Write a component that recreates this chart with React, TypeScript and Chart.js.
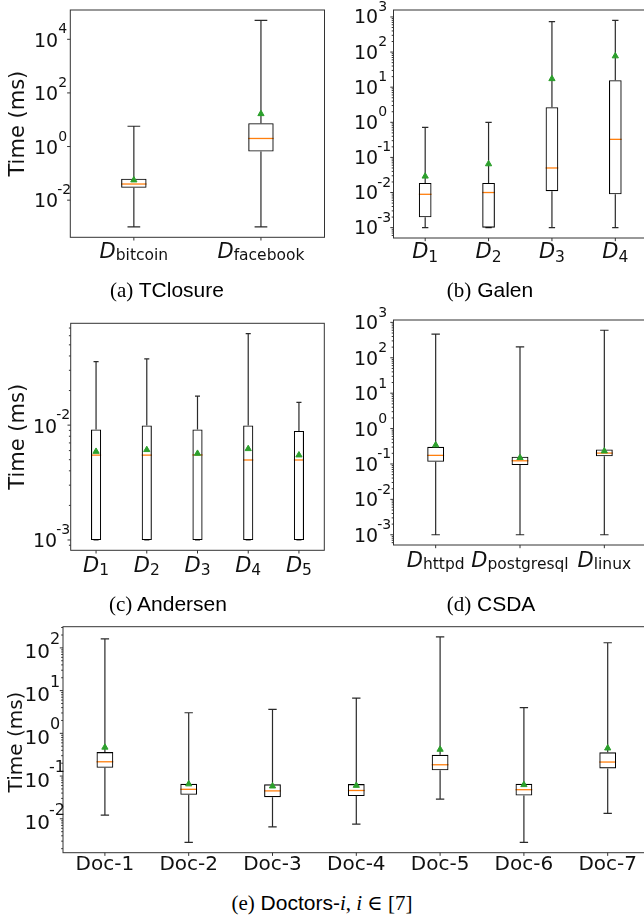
import React, { useEffect, useRef } from 'react';
import { Chart, registerables } from 'chart.js';

Chart.register(...registerables);

// ---------- (a) TClosure ----------
const tcCategories = ['bitcoin', 'facebook'];
const tcMin = [0.001, 0.001];
const tcQ1 = [0.029, 0.65];
const tcMedian = [0.04, 2.0];
const tcQ3 = [0.063, 7.4];
const tcMax = [5.7, 51000];
const tcMean = [0.056, 16.6];
const tcTickExps = [-2, 0, 2, 4];

// ---------- (b) Galen ----------
const galenCategories = ['1', '2', '3', '4'];
const galenMin = [0.001, 0.001, 0.001, 0.001];
const galenQ1 = [0.00197, 0.001, 0.0109, 0.0089];
const galenMedian = [0.0089, 0.01, 0.05, 0.327];
const galenQ3 = [0.0188, 0.0188, 2.68, 15.8];
const galenMax = [0.72, 1.0, 735, 800];
const galenMean = [0.029, 0.065, 17.3, 77];
const galenTickExps = [-3, -2, -1, 0, 1, 2, 3];

// ---------- (c) Andersen ----------
const andCategories = ['1', '2', '3', '4', '5'];
const andMin = [0.001, 0.001, 0.001, 0.001, 0.001];
const andQ1 = [0.001, 0.001, 0.001, 0.001, 0.001];
const andMedian = [0.00548, 0.00548, 0.0055, 0.00497, 0.00497];
const andQ3 = [0.00916, 0.00993, 0.00916, 0.00993, 0.0089];
const andMax = [0.0357, 0.0378, 0.0179, 0.0626, 0.0158];
const andMean = [0.00589, 0.0061, 0.00566, 0.00622, 0.00548];
const andTickExps = [-3, -2];

// ---------- (d) CSDA ----------
const csdaCategories = ['httpd', 'postgresql', 'linux'];
const csdaMin = [0.001, 0.001, 0.001];
const csdaQ1 = [0.115, 0.093, 0.164];
const csdaMedian = [0.175, 0.123, 0.203];
const csdaQ3 = [0.306, 0.16, 0.258];
const csdaMax = [468, 204, 600];
const csdaMean = [0.342, 0.15, 0.231];
const csdaTickExps = [-3, -2, -1, 0, 1, 2, 3];

// ---------- (e) Doctors ----------
const docCategories = ['Doc-1', 'Doc-2', 'Doc-3', 'Doc-4', 'Doc-5', 'Doc-6', 'Doc-7'];
const docMin = [0.0122, 0.0028, 0.0065, 0.0075, 0.029, 0.0028, 0.0134];
const docQ1 = [0.156, 0.0365, 0.032, 0.034, 0.136, 0.035, 0.151];
const docMedian = [0.216, 0.049, 0.045, 0.046, 0.184, 0.048, 0.213];
const docQ3 = [0.365, 0.066, 0.064, 0.065, 0.315, 0.066, 0.36];
const docMax = [162, 3.03, 3.65, 6.7, 180, 4.0, 132];
const docMean = [0.47, 0.065, 0.058, 0.06, 0.42, 0.0625, 0.45];
const docTickExps = [-2, -1, 0, 1, 2];

const Y_TITLE = 'Time (ms)';

const SANS = '"DejaVu Sans", sans-serif';
const INK = '#111';

function logLimits(lo: number[], hi: number[]) {
  const a = Math.log10(Math.min(...lo));
  const b = Math.log10(Math.max(...hi));
  const m = (b - a) * 0.05;
  return { min: Math.pow(10, a - m), max: Math.pow(10, b + m) };
}

function makePlugin(cfg: any) {
  return {
    id: 'boxdraw',
    beforeDatasetsDraw(chart: any) {
      const { ctx, chartArea: a } = chart;
      const xs = chart.scales.x;
      const ys = chart.scales.y;
      const n = cfg.categories.length;
      const cw = (a.right - a.left) / n;
      const capHalf = cw * 0.05;
      const boxHalf = cw * 0.1;
      ctx.save();
      for (let i = 0; i < n; i++) {
        const x = xs.getPixelForValue(i);
        const yMin = ys.getPixelForValue(cfg.min[i]);
        const yQ1 = ys.getPixelForValue(cfg.q1[i]);
        const yQ3 = ys.getPixelForValue(cfg.q3[i]);
        const yMax = ys.getPixelForValue(cfg.max[i]);
        const yMed = ys.getPixelForValue(cfg.median[i]);
        ctx.strokeStyle = '#2a2a2a';
        ctx.lineWidth = 1.2;
        ctx.beginPath();
        ctx.moveTo(x, yQ1);
        ctx.lineTo(x, yMin);
        ctx.moveTo(x, yQ3);
        ctx.lineTo(x, yMax);
        ctx.moveTo(x - capHalf, yMin);
        ctx.lineTo(x + capHalf, yMin);
        ctx.moveTo(x - capHalf, yMax);
        ctx.lineTo(x + capHalf, yMax);
        ctx.stroke();
        ctx.strokeStyle = '#ff7f0e';
        ctx.lineWidth = 1.3;
        ctx.beginPath();
        ctx.moveTo(x - boxHalf, yMed);
        ctx.lineTo(x + boxHalf, yMed);
        ctx.stroke();
      }
      ctx.restore();
    },
    afterDraw(chart: any) {
      const { ctx, chartArea: a } = chart;
      const xs = chart.scales.x;
      const ys = chart.scales.y;
      ctx.save();
      // frame
      ctx.strokeStyle = '#333';
      ctx.lineWidth = 1;
      ctx.strokeRect(a.left, a.top, a.right - a.left, a.bottom - a.top);
      // y ticks
      const lo = ys.min;
      const hi = ys.max;
      ctx.beginPath();
      for (let e = Math.floor(Math.log10(lo)); e <= Math.ceil(Math.log10(hi)); e++) {
        for (let k = 1; k <= 9; k++) {
          const v = k * Math.pow(10, e);
          if (v < lo || v > hi) continue;
          const major = k === 1 && cfg.exps.includes(e);
          if (!major && !cfg.minor) continue;
          const y = ys.getPixelForValue(v);
          const len = major ? 3.2 : 1.8;
          ctx.moveTo(a.left, y);
          ctx.lineTo(a.left - len, y);
        }
      }
      // x ticks
      for (let i = 0; i < cfg.categories.length; i++) {
        const x = xs.getPixelForValue(i);
        ctx.moveTo(x, a.bottom);
        ctx.lineTo(x, a.bottom + 3.2);
      }
      ctx.stroke();

      ctx.fillStyle = INK;
      ctx.textBaseline = 'alphabetic';
      ctx.textAlign = 'left';
      // y tick labels: 10^e
      const tx = cfg.tickX - cfg.left;
      for (const e of cfg.exps) {
        const y = ys.getPixelForValue(Math.pow(10, e));
        ctx.font = `${cfg.tickFont}px ${SANS}`;
        ctx.fillText('10', tx, y + cfg.baseDy);
        const w = ctx.measureText('10').width;
        ctx.font = `${cfg.supFont}px ${SANS}`;
        ctx.fillText(String(e), tx + w - (e < 0 ? 1 : 0), y + cfg.baseDy - cfg.supRise);
      }
      // x tick labels
      for (let i = 0; i < cfg.categories.length; i++) {
        const x = xs.getPixelForValue(i);
        const yb = a.bottom + cfg.xDy;
        const cat = cfg.categories[i];
        if (cfg.xKind === 'D') {
          ctx.font = `italic ${cfg.dFont}px ${SANS}`;
          const wD = ctx.measureText('D').width;
          ctx.font = `${cfg.subFont}px ${SANS}`;
          const wS = ctx.measureText(cat).width;
          const x0 = x - (wD + wS) / 2;
          ctx.font = `italic ${cfg.dFont}px ${SANS}`;
          ctx.fillText('D', x0, yb);
          ctx.font = `${cfg.subFont}px ${SANS}`;
          ctx.fillText(cat, x0 + wD, yb + cfg.subDrop);
        } else {
          ctx.font = `${cfg.xFont}px ${SANS}`;
          ctx.textAlign = 'center';
          ctx.fillText(cat, x, yb);
          ctx.textAlign = 'left';
        }
      }
      // y title
      if (cfg.yTitle) {
        ctx.save();
        ctx.translate(cfg.yTitle.x - cfg.left, (cfg.yTitle.cy ?? (a.top + a.bottom) / 2 + cfg.top) - cfg.top);
        ctx.rotate(-Math.PI / 2);
        ctx.textAlign = 'center';
        ctx.textBaseline = 'middle';
        ctx.font = `${cfg.yTitle.size}px ${SANS}`;
        ctx.fillText(Y_TITLE, 0, 0);
        ctx.restore();
      }
      ctx.restore();
    },
  };
}

function Panel({ cfg }: { cfg: any }) {
  const ref = useRef<HTMLCanvasElement>(null);
  useEffect(() => {
    const canvas = ref.current as HTMLCanvasElement;
    const lim = logLimits(cfg.min, cfg.max);
    const padTop = cfg.plot.t - cfg.top;
    const padRight = cfg.left + cfg.width - cfg.plot.r;
    const yW = cfg.plot.l - cfg.left;
    const xH = cfg.top + cfg.height - cfg.plot.b;
    const chart = new Chart(canvas, {
      type: 'bar',
      data: {
        labels: cfg.categories,
        datasets: [
          {
            type: 'line',
            data: cfg.mean,
            showLine: false,
            pointStyle: 'triangle',
            pointRadius: 3.6,
            pointHoverRadius: 3.6,
            pointBackgroundColor: '#2ca02c',
            pointBorderColor: '#2ca02c',
            pointBorderWidth: 1,
            order: 1,
          } as any,
          {
            type: 'bar',
            data: cfg.q1.map((v: number, i: number) => [v, cfg.q3[i]]),
            backgroundColor: 'rgba(0,0,0,0)',
            borderColor: '#000',
            borderWidth: 1.1,
            borderSkipped: false,
            categoryPercentage: 1,
            barPercentage: 0.2,
            order: 2,
          } as any,
        ],
      },
      options: {
        responsive: false,
        animation: false,
        devicePixelRatio: 1,
        events: [],
        layout: { padding: { top: padTop, right: padRight, left: 0, bottom: 0 } },
        plugins: { legend: { display: false }, tooltip: { enabled: false } },
        scales: {
          x: {
            type: 'category',
            offset: true,
            grid: { display: false },
            border: { display: false },
            ticks: { display: false },
            afterFit: (s: any) => {
              s.height = xH;
            },
          },
          y: {
            type: 'logarithmic',
            min: lim.min,
            max: lim.max,
            bounds: 'data',
            grid: { display: false },
            border: { display: false },
            ticks: { display: false },
            afterFit: (s: any) => {
              s.width = yW;
            },
          },
        },
      } as any,
      plugins: [makePlugin(cfg)],
    });
    return () => chart.destroy();
  }, []);
  return (
    <canvas
      ref={ref}
      width={cfg.width}
      height={cfg.height}
      style={{ position: 'absolute', left: cfg.left, top: cfg.top, width: cfg.width, height: cfg.height }}
    />
  );
}

const panelA = {
  left: 0, top: 0, width: 330, height: 275,
  plot: { l: 70.3, t: 10, r: 324.5, b: 237.3 },
  categories: tcCategories, min: tcMin, q1: tcQ1, median: tcMedian, q3: tcQ3, max: tcMax, mean: tcMean,
  exps: tcTickExps, minor: false,
  tickX: 34, tickFont: 19, supFont: 14, baseDy: 7.3, supRise: 13.3,
  xKind: 'D', xDy: 21, dFont: 21, subFont: 15.5, subDrop: 2,
  yTitle: { x: 19, size: 21 },
};

const panelB = {
  left: 333, top: 0, width: 327, height: 275,
  plot: { l: 393.5, t: 10, r: 647, b: 238 },
  categories: galenCategories, min: galenMin, q1: galenQ1, median: galenMedian, q3: galenQ3, max: galenMax, mean: galenMean,
  exps: galenTickExps, minor: true,
  tickX: 354, tickFont: 19, supFont: 14, baseDy: 6.5, supRise: 12.5,
  xKind: 'D', xDy: 20.3, dFont: 21, subFont: 15.5, subDrop: 3.4,
};

const panelC = {
  left: 0, top: 300, width: 330, height: 290,
  plot: { l: 70.7, t: 323.3, r: 324.3, b: 550.3 },
  categories: andCategories, min: andMin, q1: andQ1, median: andMedian, q3: andQ3, max: andMax, mean: andMean,
  exps: andTickExps, minor: true,
  tickX: 33, tickFont: 19, supFont: 14, baseDy: 7.5, supRise: 13.3,
  xKind: 'D', xDy: 21.4, dFont: 21, subFont: 15.5, subDrop: 3.3,
  yTitle: { x: 19, size: 21 },
};

const panelD = {
  left: 333, top: 300, width: 327, height: 290,
  plot: { l: 393.5, t: 320, r: 646.5, b: 545 },
  categories: csdaCategories, min: csdaMin, q1: csdaQ1, median: csdaMedian, q3: csdaQ3, max: csdaMax, mean: csdaMean,
  exps: csdaTickExps, minor: true,
  tickX: 354, tickFont: 19, supFont: 14, baseDy: 7, supRise: 12.5,
  xKind: 'D', xDy: 21.7, dFont: 21, subFont: 15.5, subDrop: 2,
};

const panelE = {
  left: 0, top: 615, width: 660, height: 270,
  plot: { l: 63, t: 626.7, r: 649.6, b: 852.7 },
  categories: docCategories, min: docMin, q1: docQ1, median: docMedian, q3: docQ3, max: docMax, mean: docMean,
  exps: docTickExps, minor: true,
  tickX: 24.5, tickFont: 20, supFont: 16, baseDy: 10.5, supRise: 14.5,
  xKind: 'plain', xDy: 17.3, xFont: 20,
  yTitle: { x: 17, size: 20, cy: 742 },
};

const SERIF_CSS = '"Liberation Serif", "DejaVu Serif", serif';
const SANS_CSS = '"Liberation Sans", "DejaVu Sans", sans-serif';

function Caption({ cx, baseline, children }: { cx: number; baseline: number; children: any }) {
  return (
    <div
      style={{
        position: 'absolute',
        left: cx - 200,
        width: 400,
        top: baseline - 18,
        textAlign: 'center',
        fontSize: 21,
        lineHeight: '21px',
        whiteSpace: 'nowrap',
        color: '#000',
        fontFamily: SANS_CSS,
      }}
    >
      {children}
    </div>
  );
}

const S = ({ children, italic }: { children: any; italic?: boolean }) => (
  <span style={{ fontFamily: SERIF_CSS, fontStyle: italic ? 'italic' : 'normal' }}>{children}</span>
);

export default function App() {
  return (
    <div
      style={{
        position: 'fixed',
        left: 0,
        top: 0,
        width: 644,
        height: 921,
        overflow: 'hidden',
        background: '#fff',
      }}
    >
      <Panel cfg={panelA} />
      <Panel cfg={panelB} />
      <Panel cfg={panelC} />
      <Panel cfg={panelD} />
      <Panel cfg={panelE} />
      <Caption cx={167} baseline={297}>
        <S>(a)</S> TClosure
      </Caption>
      <Caption cx={490} baseline={297}>
        <S>(b)</S> Galen
      </Caption>
      <Caption cx={168} baseline={611}>
        <S>(c)</S> Andersen
      </Caption>
      <Caption cx={491} baseline={611}>
        <S>(d)</S> CSDA
      </Caption>
      <Caption cx={322} baseline={910}>
        <S>(e)</S> Doctors-<S italic>i</S>
        <S>, </S>
        <S italic>i</S>
        <S> ∈ [7]</S>
      </Caption>
    </div>
  );
}
